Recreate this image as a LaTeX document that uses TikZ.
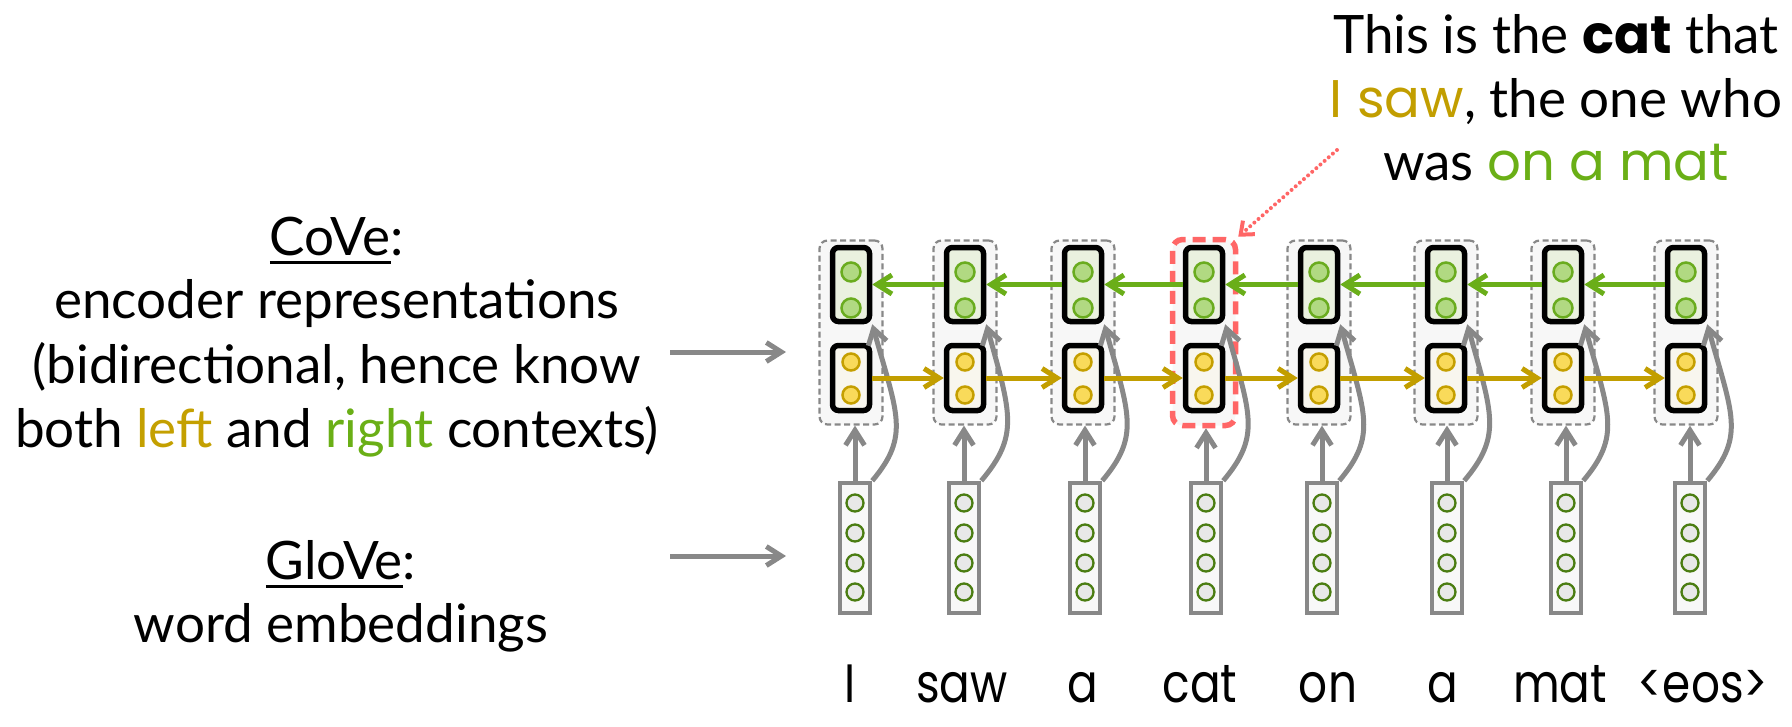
\documentclass[tikz,border=0pt]{standalone}
\usepackage{fontspec}
\setmainfont{Lato}[FakeStretch=1.0]
\newfontfamily\cfont{Poppins}[FakeStretch=0.84]
\newfontfamily\cfontb{Poppins}
\usetikzlibrary{arrows.meta}
\definecolor{grpc}{HTML}{888888}
\definecolor{grpf}{HTML}{F7F7F7}
\definecolor{redc}{HTML}{FF6666}
\definecolor{gboxf}{HTML}{EAF1DF}
\definecolor{yboxf}{HTML}{F8F6EE}
\definecolor{gdotf}{HTML}{B1D982}
\definecolor{gdotd}{HTML}{6AAC1F}
\definecolor{ydotf}{HTML}{F9DA5A}
\definecolor{ydotd}{HTML}{C59F00}
\definecolor{garc}{HTML}{6AAE19}
\definecolor{yarc}{HTML}{C29E00}
\definecolor{grayc}{HTML}{888888}
\definecolor{eboxf}{HTML}{F8F8F8}
\definecolor{edotf}{HTML}{E8E8E8}
\definecolor{edotd}{HTML}{4B7D12}
\definecolor{txty}{HTML}{C4A000}
\definecolor{txtg}{HTML}{6AAF16}
\newcommand\myul[1]{\setbox0=\hbox{#1}\rlap{\rule[-8.5pt]{\wd0}{3pt}}\box0}
\begin{document}
\begin{tikzpicture}[x=1pt,y=-1pt,
  >={Straight Barb[length=15pt,width=19pt]},
  grpbox/.style={draw=grpc,line width=2.2pt,dash pattern=on 6pt off 3.5pt,fill=grpf,rounded corners=8pt,minimum width=63pt,minimum height=184pt,inner sep=0pt},
  redgrp/.style={draw=redc,line width=5.5pt,dash pattern=on 13pt off 7pt,fill=grpf,rounded corners=10pt,minimum width=63pt,minimum height=186pt,inner sep=0pt},
  gbox/.style={draw=black,line width=5.5pt,fill=gboxf,rounded corners=6pt,minimum width=37pt,minimum height=74pt,inner sep=0pt},
  ybox/.style={draw=black,line width=5.5pt,fill=yboxf,rounded corners=6pt,minimum width=37pt,minimum height=65pt,inner sep=0pt},
  gdot/.style={circle,draw=gdotd,fill=gdotf,line width=2.5pt,minimum size=19pt,inner sep=0pt},
  ydot/.style={circle,draw=ydotd,fill=ydotf,line width=2.5pt,minimum size=17pt,inner sep=0pt},
  ebox/.style={draw=grayc,line width=4.5pt,fill=eboxf,minimum width=30pt,minimum height=130pt,inner sep=0pt},
  edot/.style={circle,draw=edotd,fill=edotf,line width=2.3pt,minimum size=17pt,inner sep=0pt},
  garr/.style={draw=garc,line width=5pt,->},
  yarr/.style={draw=yarc,line width=5pt,->},
  grayarr/.style={draw=grayc,line width=5pt,->},
  reddot/.style={draw=redc,line width=4pt,dash pattern=on 0pt off 5.5pt,line cap=round,-{Straight Barb[length=11pt,width=18pt]}},
  txt/.style={anchor=base,inner sep=0pt,font=\fontsize{53}{64}\selectfont},
  word/.style={anchor=base,inner sep=0pt,font=\cfont\fontsize{54}{64}\selectfont},
]
\useasboundingbox (0,0) rectangle (1792,726);
\foreach \i/\gx/\ex in {1/851/855,2/965/964,3/1083/1085,4/1204/1206,5/1319/1322,6/1446/1447,7/1563/1566,8/1686/1690}{
  \ifnum\i=4
    \node[redgrp] (g\i) at (\gx,332.5) {};
  \else
    \node[grpbox] (g\i) at (\gx,332.5) {};
  \fi
  \node[gbox] (h\i) at (\gx,284.5) {};
  \node[gdot] (h\i-1) at (\gx,272) {};
  \node[gdot] (h\i-2) at (\gx,308) {};
  \node[ybox] (f\i) at (\gx,378) {};
  \node[ydot] (f\i-1) at (\gx,362) {};
  \node[ydot] (f\i-2) at (\gx,395) {};
  \node[ebox] (e\i) at (\ex,548) {};
  \node[edot] (e\i-1) at (\ex,503) {};
  \node[edot] (e\i-2) at (\ex,533) {};
  \node[edot] (e\i-3) at (\ex,563) {};
  \node[edot] (e\i-4) at (\ex,592) {};
  \draw[grayarr] (e\i.north) -- (e\i.north |- g\i.south);
  \draw[grayarr] (e\i.north east) .. controls +(38,-45) and +(25,90) .. (h\i.south east);
}
\foreach \i [evaluate=\i as \j using int(\i+1)] in {1,...,7}{
  \draw[yarr] (f\i.east) -- (f\j.west);
  \draw[garr] (h\j.west) -- (h\i.east);
}
\foreach \i/\x/\w in {1/850/I,2/962/saw,3/1083/a,4/1200/cat,5/1328/on,6/1443/a,7/1560/mat,8/1703/<eos>}{
  \node[word] (w\i) at (\x,702) {\w};
}
\node[txt] (c1) at (337,255) {\myul{CoVe}:};
\node[txt] (c2) at (337,318) {encoder representations};
\node[txt] (c3) at (337,383) {(bidirectional, hence know};
\node[txt] (c4) at (337,447) {both {\color{txty}left} and {\color{txtg}right} contexts)};
\node[txt] (gl1) at (341,579) {\myul{GloVe}:};
\node[txt] (gl2) at (341,642) {word embeddings};
\node[txt] (t1) at (1556,53) {This is the {\cfontb\bfseries cat} that};
\node[txt] (t2) at (1556,117) {{\cfontb\color{yarc}I saw}, the one who};
\node[txt] (t3) at (1556,180) {was {\cfontb\color{txtg}on a mat}};
\coordinate (ca) at (670,352);
\coordinate (cb) at (786,352);
\coordinate (ga) at (670,556);
\coordinate (gb) at (786,556);
\draw[grayarr] (ca) -- (cb);
\draw[grayarr] (ga) -- (gb);
\coordinate (rs) at (1337,150);
\draw[reddot] (rs) -- (g4.north east);
\end{tikzpicture}
\end{document}
